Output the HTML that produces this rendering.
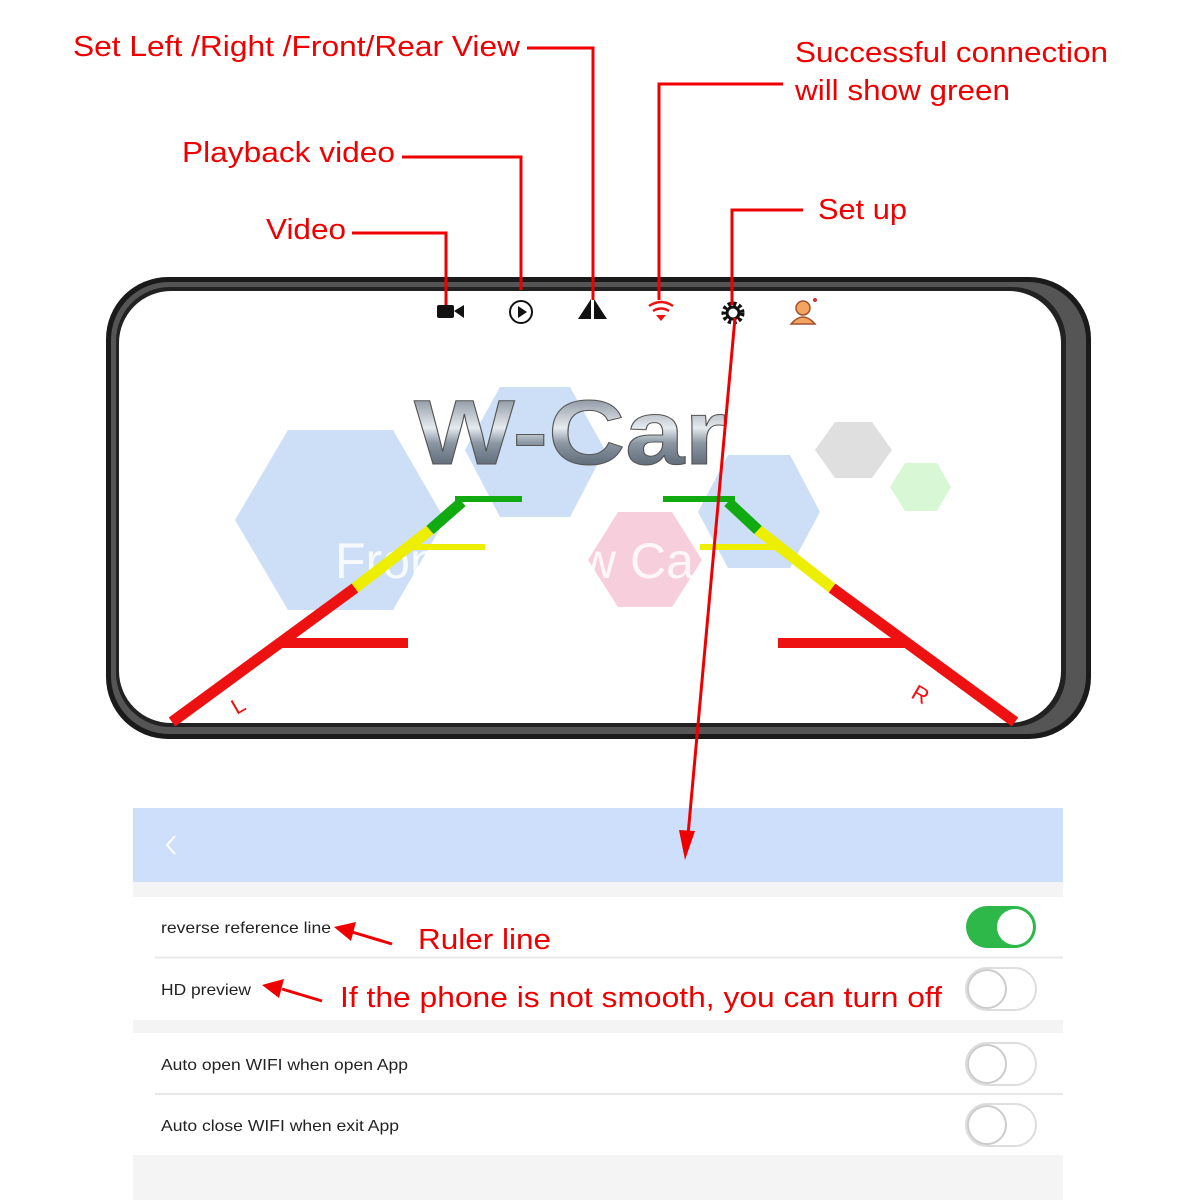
<!DOCTYPE html>
<html><head><meta charset="utf-8"><style>
html,body{margin:0;padding:0;background:#fff;width:1200px;height:1200px;overflow:hidden}
svg{display:block}
text{font-family:"Liberation Sans",sans-serif}
</style></head><body>
<svg width="1200" height="1200" viewBox="0 0 1200 1200" xmlns="http://www.w3.org/2000/svg">
<defs>
<linearGradient id="chrome" x1="0" y1="0" x2="0" y2="1">
<stop offset="0" stop-color="#5d6a78"/><stop offset="0.45" stop-color="#e6ebef"/><stop offset="0.6" stop-color="#8a96a2"/><stop offset="1" stop-color="#3d4a58"/>
</linearGradient>
</defs>
<!-- phone -->
<rect x="106" y="277" width="985" height="462" rx="62" fill="#1a1a1a"/>
<rect x="111" y="282" width="975" height="452" rx="58" fill="#555"/>
<rect x="116" y="287" width="950" height="440" rx="54" fill="#222"/>
<rect x="119" y="291" width="942" height="432" rx="52" fill="#fff"/>
<!-- hexagons -->
<g opacity="0.9">
<polygon points="235,520 288,430 393,430 445,520 393,610 288,610" fill="#c7dcf6"/>
<polygon points="465,450 500,387 570,387 605,450 570,517 500,517" fill="#c7dcf6"/>
<polygon points="698,512 728,455 790,455 820,512 790,568 728,568" fill="#c7dcf6"/>
<polygon points="588,560 618,512 672,512 702,560 672,607 618,607" fill="#f7c9d8"/>
<polygon points="815,450 835,422 872,422 892,450 872,478 835,478" fill="#dcdcdc"/>
<polygon points="890,487 905,463 937,463 951,487 937,511 905,511" fill="#d4f7d0"/>
</g>
<text x="335" y="578" font-size="50" fill="#fff" opacity="0.85">Fron</text>
<text x="580" y="578" font-size="50" fill="#fff" opacity="0.85">w Ca</text>
<text x="414" y="464" font-size="92" font-weight="bold" fill="url(#chrome)" stroke="#555" stroke-width="1" textLength="312" lengthAdjust="spacingAndGlyphs">W-Car</text>
<!-- guide lines -->
<g stroke-width="11" fill="none">
<line x1="172" y1="722" x2="355" y2="588" stroke="#e11"/>
<line x1="355" y1="588" x2="430" y2="530" stroke="#ee0"/>
<line x1="430" y1="530" x2="462" y2="502" stroke="#1a1"/>
<line x1="1015" y1="722" x2="832" y2="588" stroke="#e11"/>
<line x1="832" y1="588" x2="758" y2="530" stroke="#ee0"/>
<line x1="758" y1="530" x2="728" y2="502" stroke="#1a1"/>
</g>
<g stroke-width="6">
<line x1="455" y1="499" x2="522" y2="499" stroke="#1a1"/>
<line x1="663" y1="499" x2="735" y2="499" stroke="#1a1"/>
<line x1="410" y1="547" x2="485" y2="547" stroke="#ee0"/>
<line x1="700" y1="547" x2="780" y2="547" stroke="#ee0"/>
</g>
<g stroke-width="10">
<line x1="280" y1="643" x2="408" y2="643" stroke="#e11"/>
<line x1="778" y1="643" x2="905" y2="643" stroke="#e11"/>
</g>
<text x="232" y="712" font-size="22" fill="#e11" transform="rotate(-30 240 705)">L</text>
<text x="912" y="703" font-size="22" fill="#e11" transform="rotate(30 922 696)">R</text>
<!-- icons -->
<rect x="437" y="305" width="17" height="13" rx="2" fill="#111"/><polygon points="454,311 464,305 464,318" fill="#111"/>
<circle cx="521" cy="312" r="11" fill="none" stroke="#111" stroke-width="2"/><polygon points="518,306 527,312 518,318" fill="#111"/>
<polygon points="578,319 591,299 591,319" fill="#111"/><polygon points="594,299 607,319 594,319" fill="#111"/>
<g fill="none" stroke="#e11" stroke-width="2.5"><path d="M649,306 Q661,298 673,306"/><path d="M653,311 Q661,306 669,311"/></g><polygon points="656,315 666,315 661,321" fill="#e11"/>
<circle cx="733" cy="313" r="9" fill="none" stroke="#111" stroke-width="5" stroke-dasharray="3 2.3"/><circle cx="733" cy="313" r="6" fill="none" stroke="#111" stroke-width="3"/>
<circle cx="803" cy="308" r="7" fill="#f4a460" stroke="#a0522d" stroke-width="1.5"/><path d="M791,324 Q803,310 815,324 Z" fill="#f4a460" stroke="#a0522d" stroke-width="1.5"/><circle cx="815" cy="300" r="2" fill="#c33"/>
<!-- annotation lines -->
<g stroke="#e00" stroke-width="3" fill="none">
<polyline points="527,48 593,48 593,300"/>
<polyline points="402,157 521,157 521,290"/>
<polyline points="352,233 446,233 446,305"/>
<polyline points="783,84 659,84 659,300"/>
<polyline points="803,210 732,210 732,305"/>
</g>
<g fill="#e00" font-size="29">
<text x="73" y="56" textLength="447" lengthAdjust="spacingAndGlyphs">Set Left /Right /Front/Rear View</text>
<text x="182" y="162" textLength="213" lengthAdjust="spacingAndGlyphs">Playback video</text>
<text x="266" y="239" textLength="80" lengthAdjust="spacingAndGlyphs">Video</text>
<text x="795" y="62" textLength="313" lengthAdjust="spacingAndGlyphs">Successful connection</text>
<text x="795" y="100" textLength="215" lengthAdjust="spacingAndGlyphs">will show green</text>
<text x="818" y="219" textLength="89" lengthAdjust="spacingAndGlyphs">Set up</text>
</g>
<!-- settings panel -->
<rect x="133" y="808" width="930" height="392" fill="#f4f4f4"/>
<rect x="133" y="808" width="930" height="74" fill="#cddffa"/>
<polyline points="175,836 167,845 175,854" fill="none" stroke="#fff" stroke-width="2"/>
<rect x="133" y="897" width="930" height="123" fill="#fff"/>
<rect x="133" y="1033" width="930" height="122" fill="#fff"/>
<line x1="155" y1="957.5" x2="1063" y2="957.5" stroke="#e8e8e8" stroke-width="2"/>
<line x1="155" y1="1094" x2="1063" y2="1094" stroke="#e8e8e8" stroke-width="2"/>
<g font-size="16" fill="#222">
<text x="161" y="933" textLength="170" lengthAdjust="spacingAndGlyphs">reverse reference line</text>
<text x="161" y="995" textLength="90" lengthAdjust="spacingAndGlyphs">HD preview</text>
<text x="161" y="1070" textLength="247" lengthAdjust="spacingAndGlyphs">Auto open WIFI when open App</text>
<text x="161" y="1131" textLength="238" lengthAdjust="spacingAndGlyphs">Auto close WIFI when exit App</text>
</g>
<rect x="966" y="906" width="70" height="42" rx="21" fill="#2fb84a"/><circle cx="1015" cy="927" r="18" fill="#fff"/>
<g>
<rect x="966" y="968" width="70" height="42" rx="21" fill="#fff" stroke="#ddd" stroke-width="2"/><circle cx="987" cy="989" r="19" fill="#fff" stroke="#ccc" stroke-width="2"/>
<rect x="966" y="1043" width="70" height="42" rx="21" fill="#fff" stroke="#ddd" stroke-width="2"/><circle cx="987" cy="1064" r="19" fill="#fff" stroke="#ccc" stroke-width="2"/>
<rect x="966" y="1104" width="70" height="42" rx="21" fill="#fff" stroke="#ddd" stroke-width="2"/><circle cx="987" cy="1125" r="19" fill="#fff" stroke="#ccc" stroke-width="2"/>
</g>
<!-- arrows -->
<line x1="735" y1="318" x2="688" y2="835" stroke="#e00" stroke-width="3"/>
<polygon points="679,830 695,831 685,860" fill="#e00"/>
<line x1="392" y1="944" x2="352" y2="932" stroke="#e00" stroke-width="3"/><polygon points="334,927 356,922 351,941" fill="#e00"/>
<line x1="322" y1="1001" x2="282" y2="989" stroke="#e00" stroke-width="3"/><polygon points="262,985 284,979 279,998" fill="#e00"/>
<g fill="#e00" font-size="29">
<text x="418" y="949" textLength="133" lengthAdjust="spacingAndGlyphs">Ruler line</text>
<text x="340" y="1007" textLength="602" lengthAdjust="spacingAndGlyphs">If the phone is not smooth, you can turn off</text>
</g>
</svg>
</body></html>
